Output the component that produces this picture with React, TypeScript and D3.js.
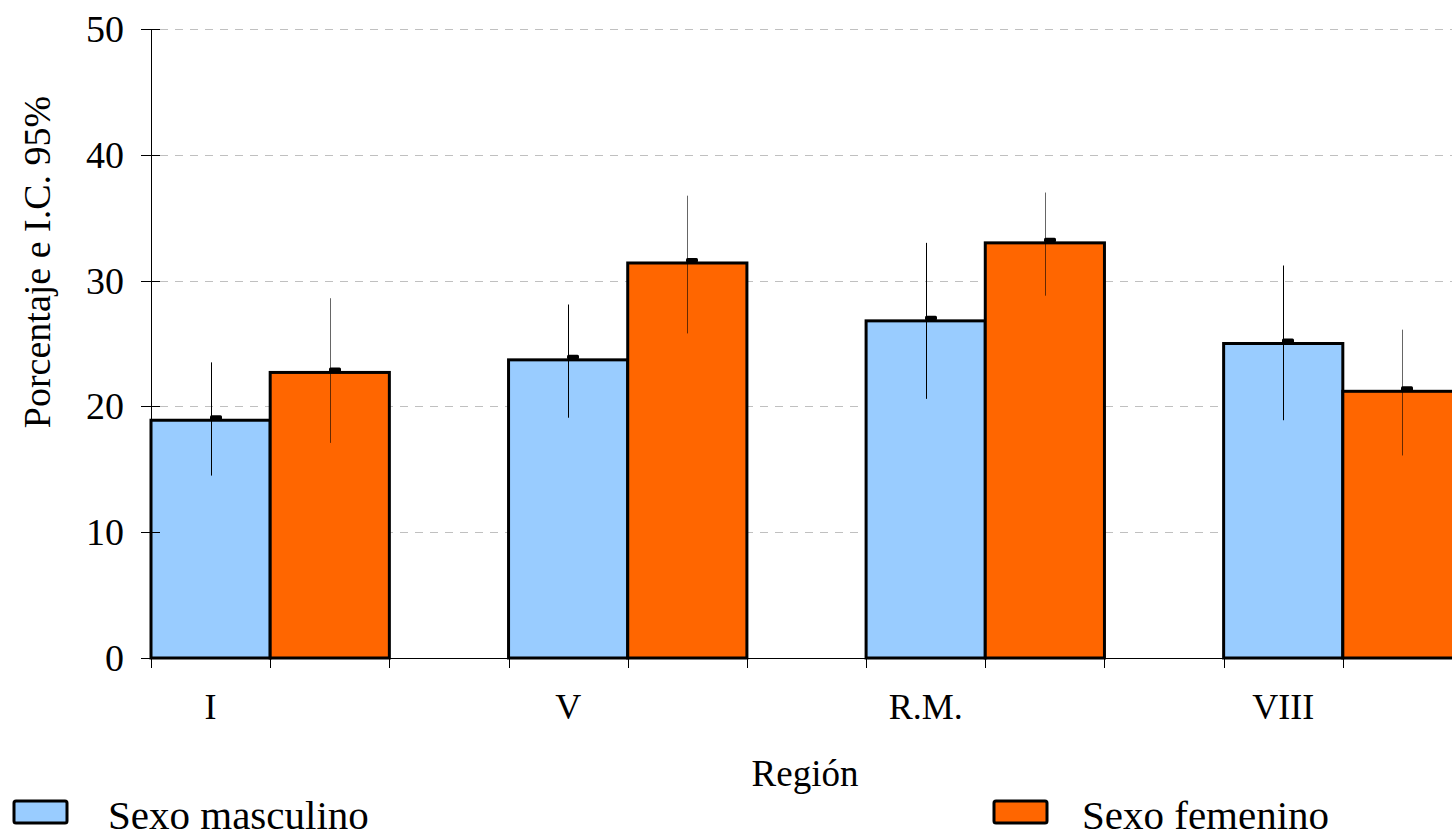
import React from "react";
import * as d3 from "d3";

const categories = ["I", "V", "R.M.", "VIII"];
const seriesNames = ["Sexo masculino", "Sexo femenino"];
const seriesColors = ["#99CCFF", "#FF6600"];
const mascValues = [18.9, 23.7, 26.8, 25.0];
const mascLow = [14.5, 19.1, 20.6, 18.9];
const mascHigh = [23.5, 28.1, 33.0, 31.2];
const femValues = [22.7, 31.4, 33.0, 21.2];
const femLow = [17.1, 25.8, 28.8, 16.1];
const femHigh = [28.6, 36.75, 37.0, 26.1];
const yTicks = [0, 10, 20, 30, 40, 50];

const W = 1452;
const H = 835;
const FONT = "'Liberation Serif', 'Times New Roman', serif";

export default function App() {
  const x0 = d3.scaleBand<string>().domain(categories).range([151, 1462]).paddingInner(1 / 3).paddingOuter(0);
  const x1 = d3.scaleBand<string>().domain(["m", "f"]).range([0, x0.bandwidth()]);
  const y = d3.scaleLinear().domain([0, 50]).range([658, 29]);

  const series = [
    { key: "m", values: mascValues, low: mascLow, high: mascHigh, color: seriesColors[0], errOpacity: 1 },
    { key: "f", values: femValues, low: femLow, high: femHigh, color: seriesColors[1], errOpacity: 0.6 },
  ];

  const edges: number[] = [];
  categories.forEach((c) => {
    const s = x0(c)!;
    edges.push(s, s + x1.bandwidth(), s + 2 * x1.bandwidth());
  });

  return (
    <svg width={W} height={H} style={{ position: "absolute", left: 0, top: 0, display: "block", background: "#fff" }}>
      {/* grid */}
      {yTicks.filter((t) => t > 0).map((t) => (
        <line key={"g" + t} x1={160} x2={W} y1={Math.round(y(t)) + 0.5} y2={Math.round(y(t)) + 0.5}
          stroke="#c0c0c0" strokeWidth={1} strokeDasharray="8 7" />
      ))}
      {/* bars */}
      {series.map((s) =>
        categories.map((c, i) => {
          const bx = x0(c)! + x1(s.key)!;
          const bw = x1.bandwidth();
          return (
            <rect key={s.key + c} x={bx} y={y(s.values[i])} width={bw} height={y(0) - y(s.values[i])}
              fill={s.color} stroke="#000" strokeWidth={3} />
          );
        })
      )}
      {/* error bars and mean markers */}
      {series.map((s) =>
        categories.map((c, i) => {
          const cx = Math.round(x0(c)! + x1(s.key)! + x1.bandwidth() / 2);
          return (
            <g key={"e" + s.key + c}>
              <line x1={cx + 0.5} x2={cx + 0.5} y1={y(s.high[i])} y2={y(s.low[i])} stroke="#000" strokeWidth={1}
                strokeOpacity={s.errOpacity} />
              <rect x={cx - 1} y={y(s.values[i]) - 5} width={12} height={4.5} rx={1.5} fill="#000" />
            </g>
          );
        })
      )}
      {/* y axis */}
      <line x1={151.5} x2={151.5} y1={29} y2={658} stroke="#000" strokeWidth={1} />
      {yTicks.map((t) => (
        <g key={"t" + t}>
          <line x1={141} x2={160} y1={Math.round(y(t)) + 0.5} y2={Math.round(y(t)) + 0.5} stroke="#000" strokeWidth={1} />
          <text x={124} y={y(t)} textAnchor="end" dominantBaseline="central" fontFamily={FONT} fontSize={38} fill="#000">
            {t}
          </text>
        </g>
      ))}
      {/* x axis */}
      <line x1={141} x2={W} y1={658.5} y2={658.5} stroke="#000" strokeWidth={1} />
      {edges.map((e, i) => (
        <line key={"xt" + i} x1={Math.round(e) + 0.5} x2={Math.round(e) + 0.5} y1={658} y2={668} stroke="#000" strokeWidth={1} />
      ))}
      {categories.map((c) => (
        <text key={"xl" + c} x={x0(c)! + x1("m")! + x1.bandwidth() / 2} y={707} textAnchor="middle"
          dominantBaseline="central" fontFamily={FONT} fontSize={36} fill="#000">
          {c}
        </text>
      ))}
      {/* axis titles */}
      <text x={805} y={773} textAnchor="middle" dominantBaseline="central" fontFamily={FONT} fontSize={37} fill="#000">
        Región
      </text>
      <text transform={`translate(37,262) rotate(-90)`} textAnchor="middle" dominantBaseline="central"
        fontFamily={FONT} fontSize={38} fill="#000">
        Porcentaje e I.C. 95%
      </text>
      {/* legend */}
      {[{ x: 13, tx: 108 }, { x: 993, tx: 1082 }].map((p, i) => (
        <g key={"lg" + i}>
          <rect x={p.x + 1} y={801} width={53} height={22} fill={seriesColors[i]} stroke="#000" strokeWidth={3} rx={2} />
          <text x={p.tx} y={815} dominantBaseline="central" fontFamily={FONT} fontSize={41} fill="#000">
            {seriesNames[i]}
          </text>
        </g>
      ))}
    </svg>
  );
}
